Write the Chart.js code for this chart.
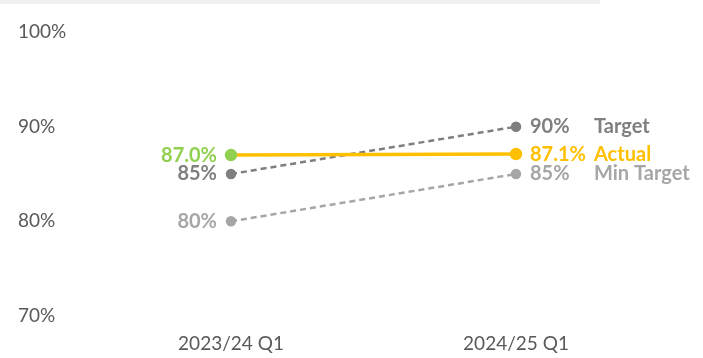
<!DOCTYPE html>
<html>
<head>
<meta charset="utf-8">
<script src="https://cdn.jsdelivr.net/npm/chart.js@4"></script>
<style>
  html, body { margin: 0; padding: 0; background: #fff; }
  .strip { position: absolute; top: 0; left: 0; width: 600px; height: 4px; background: #f0f0f0; }
  .wrap { width: 703px; height: 358px; }
</style>
</head>
<body>
<div class="strip"></div>
<div class="wrap"><canvas id="chart"></canvas></div>
<script>
const quarters = ['2023/24 Q1', '2024/25 Q1'];
const actual = [87.0, 87.1];
const target = [85, 90];
const minTarget = [80, 85];

const GREEN = '#92D050';
const GOLD = '#FFC000';
const DARK = '#7F7F7F';
const LIGHT = '#A6A6A6';

// value labels at both ends of each line, plus the series name on the right
const endLabels = {
  id: 'endLabels',
  afterDatasetsDraw(chart) {
    const ctx = chart.ctx;
    ctx.save();
    ctx.font = 'bold 20px Lato';
    ctx.textBaseline = 'middle';
    chart.data.datasets.forEach((ds, i) => {
      const pts = chart.getDatasetMeta(i).data;
      const fmt = ds.decimals ? (v) => v.toFixed(1) + '%' : (v) => v + '%';
      ctx.fillStyle = ds.startColor || ds.borderColor;
      ctx.textAlign = 'right';
      ctx.fillText(fmt(ds.data[0]), pts[0].x - 14, pts[0].y);
      ctx.fillStyle = ds.borderColor;
      ctx.textAlign = 'left';
      const last = pts[pts.length - 1];
      ctx.fillText(fmt(ds.data[ds.data.length - 1]), last.x + 14, last.y);
      ctx.fillText(ds.label, last.x + 78, last.y);
    });
    ctx.restore();
  }
};

new Chart(document.getElementById('chart'), {
  type: 'line',
  data: {
    labels: quarters,
    datasets: [
      {
        label: 'Actual',
        data: actual,
        decimals: true,
        borderColor: GOLD,
        startColor: GREEN,
        borderWidth: 3.5,
        pointBackgroundColor: [GREEN, GOLD],
        pointBorderColor: [GREEN, GOLD],
        pointRadius: 4.5
      },
      {
        label: 'Target',
        data: target,
        borderColor: DARK,
        borderWidth: 2.5,
        borderDash: [6, 4],
        pointBackgroundColor: DARK,
        pointBorderColor: DARK,
        pointRadius: 4
      },
      {
        label: 'Min Target',
        data: minTarget,
        borderColor: LIGHT,
        borderWidth: 2.5,
        borderDash: [6, 4],
        pointBackgroundColor: LIGHT,
        pointBorderColor: LIGHT,
        pointRadius: 4
      }
    ]
  },
  options: {
    responsive: true,
    maintainAspectRatio: false,
    animation: false,
    layout: { padding: { left: 18, right: 187, top: 32, bottom: 0 } },
    plugins: { legend: { display: false }, tooltip: { enabled: false } },
    scales: {
      x: {
        offset: false,
        grid: { display: false },
        border: { display: false },
        afterFit(scale) { scale.height = 42; },
        ticks: { color: '#595959', font: { family: 'Lato', size: 19 }, padding: 8 }
      },
      y: {
        min: 70,
        max: 100,
        grid: { display: false },
        border: { display: false },
        afterFit(scale) { scale.width = 213; },
        ticks: {
          stepSize: 10,
          crossAlign: 'far',
          color: '#595959',
          font: { family: 'Lato', size: 19 },
          callback: (v) => v + '%'
        }
      }
    }
  },
  plugins: [endLabels]
});
</script>
</body>
</html>
